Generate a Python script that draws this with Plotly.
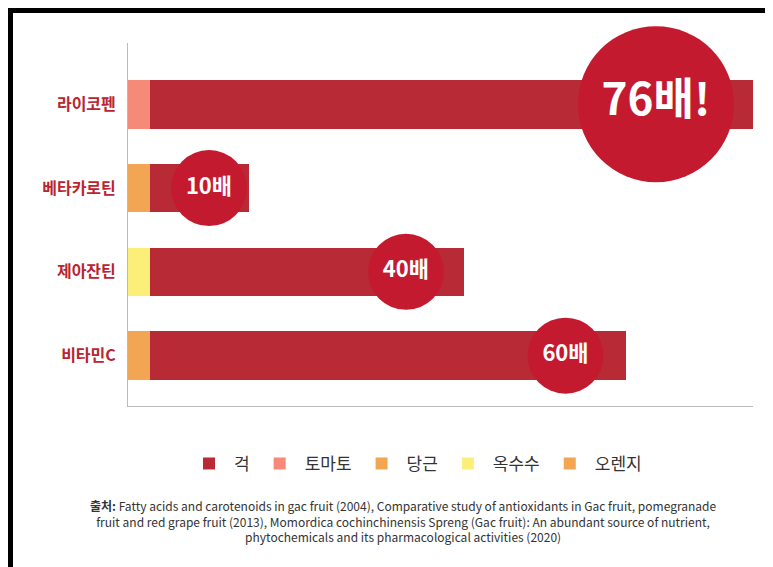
import plotly.graph_objects as go

categories = ["라이코펜", "베타카로틴", "제아잔틴", "비타민C"]
base = [2.7, 2.7, 2.7, 2.7]
gac = [73.3, 12.0, 38.1, 57.9]
labels = ["76배!", "10배", "40배", "60배"]
circle_x = [64.2, 9.85, 33.8, 53.2]
circle_size = [156, 76, 76, 76]
label_size = [44, 22, 22, 22]
footnote = ["<b>출처:</b> Fatty acids and carotenoids in gac fruit (2004), Comparative study of antioxidants in Gac fruit, pomegranade",
            "fruit and red grape fruit (2013), Momordica cochinchinensis Spreng (Gac fruit): An abundant source of nutrient,",
            "phytochemicals and its pharmacological activities (2020)"]

FONT = "Noto Sans CJK KR"
fig = go.Figure()

# small base segment per category (different fruit each)
seg = [("토마토", "#f58a78", 0), ("당근", "#f2a552", 1), ("옥수수", "#fbef7a", 2), ("오렌지", "#f2a552", 3)]
for name, col, i in seg:
    vals = [0, 0, 0, 0]
    vals[i] = base[i]
    fig.add_trace(go.Bar(y=categories, x=vals, orientation="h", name=name,
                         marker=dict(color=col, line=dict(width=0)), legendrank=2 + i))

fig.add_trace(go.Bar(y=categories, x=gac, orientation="h", name="걱",
                     marker=dict(color="#b82a35", line=dict(width=0)), legendrank=1))

fig.add_trace(go.Scatter(x=circle_x, y=categories, mode="markers+text", showlegend=False,
                         marker=dict(size=circle_size, color="#c41a30", opacity=1, line=dict(width=0)),
                         text=labels, textposition="middle center",
                         textfont=dict(color="white", size=label_size, family=FONT, weight="bold")))

annotations = [dict(text="<br>".join(footnote), xref="paper", yref="paper", x=0.5 - 0.06, y=-0.245,
                    xanchor="center", yanchor="top", showarrow=False, align="center",
                    font=dict(size=12, color="#333", family=FONT))]

fig.update_layout(
    width=773, height=567,
    barmode="stack", bargap=0.42,
    margin=dict(l=120, r=28, t=35, b=169, autoexpand=False),
    plot_bgcolor="white", paper_bgcolor="white",
    font=dict(family=FONT),
    legend=dict(orientation="h", x=0.46, xanchor="center", y=-0.11, yanchor="top",
                font=dict(size=17, color="#333"), itemwidth=40, traceorder="normal"),
    annotations=annotations,
    shapes=[dict(type="rect", xref="paper", yref="paper", x0=-118/625, x1=1+26/625,
                 y0=-167/363, y1=1+33/363, line=dict(color="black", width=6))],
)
fig.update_xaxes(range=[0, 76], showticklabels=False, showgrid=False, zeroline=False,
                 showline=True, linecolor="#bbb", linewidth=1, fixedrange=True, automargin=False)
fig.update_yaxes(range=[3.6, -0.73], showgrid=False, showline=True, linecolor="#bbb",
                 tickfont=dict(size=16, color="#b8252f", family=FONT, weight="bold"), ticklen=0,
                 ticks="", ticklabelstandoff=8, automargin=False)
fig.update_traces(cliponaxis=False, selector=dict(type="scatter"))

fig.write_html("out.html")
